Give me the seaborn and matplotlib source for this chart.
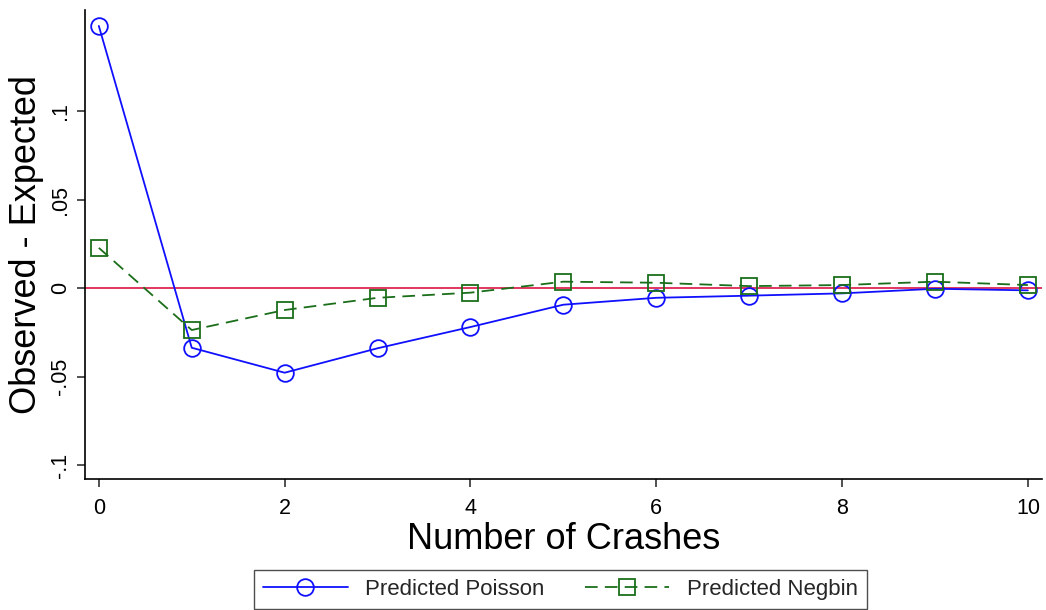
import matplotlib
matplotlib.use("Agg")
import matplotlib.pyplot as plt
import seaborn as sns
import pandas as pd
from matplotlib import font_manager

# Number of crashes and observed-minus-expected probabilities
crashes = [0, 1, 2, 3, 4, 5, 6, 7, 8, 9, 10]
poisson_diff = [0.148, -0.0337, -0.0478, -0.0340, -0.0220, -0.0094,
                -0.0055, -0.0043, -0.0030, -0.0004, -0.0013]
negbin_diff = [0.0227, -0.0237, -0.0124, -0.0055, -0.0026, 0.0036,
               0.0030, 0.0011, 0.0017, 0.0036, 0.0017]
series_names = ["Predicted Poisson", "Predicted Negbin"]
x_ticks = [0, 2, 4, 6, 8, 10]
y_ticks = [-0.1, -0.05, 0, 0.05, 0.1]
y_tick_labels = ["-.1", "-.05", "0", ".05", ".1"]

sns.set_theme(style="ticks")
installed = {f.name for f in font_manager.fontManager.ttflist}
family = "Liberation Sans" if "Liberation Sans" in installed else "DejaVu Sans"
plt.rcParams["font.family"] = [family, "DejaVu Sans"]

df = pd.DataFrame({
    "crashes": crashes * 2,
    "diff": poisson_diff + negbin_diff,
    "series": [series_names[0]] * len(crashes) + [series_names[1]] * len(crashes),
})

fig = plt.figure(figsize=(10.46, 6.10), dpi=100)
ax = fig.add_axes([0.0816, 0.2148, 0.9144, 0.7688])

blue = "#1010ff"
green = "#1a6e1a"

ax.axhline(0, color="#dc1446", lw=1.2, zorder=1)

sns.lineplot(data=df[df.series == series_names[0]], x="crashes", y="diff",
             ax=ax, color=blue, lw=1.3, marker="o", markersize=12,
             markerfacecolor="none", markeredgecolor=blue, markeredgewidth=1.3,
             label=series_names[0], zorder=3)
sns.lineplot(data=df[df.series == series_names[1]], x="crashes", y="diff",
             ax=ax, color=green, lw=1.3, marker="s", markersize=11,
             markerfacecolor="none", markeredgecolor=green, markeredgewidth=1.3,
             label=series_names[1], zorder=4)
ax.lines[-1].set_dashes([7, 4])

ax.set_xlim(-0.145, 10.15)
ax.set_ylim(-0.1078, 0.157)
ax.set_xticks(x_ticks)
ax.set_xticklabels([str(t) for t in x_ticks])
ax.set_yticks(y_ticks)
ax.set_yticklabels(y_tick_labels, rotation=90, va="center")

sns.despine(ax=ax)
for side in ("left", "bottom"):
    ax.spines[side].set_color("black")
    ax.spines[side].set_linewidth(1.2)
ax.tick_params(axis="both", direction="out", length=6, width=1.2,
               color="#333333", labelsize=15.5, labelcolor="black")
ax.tick_params(axis="x", pad=8)
ax.tick_params(axis="y", pad=4)

ax.set_xlabel("Number of Crashes", fontsize=26, color="black", labelpad=2)
ax.set_ylabel("Observed - Expected", fontsize=26, color="black", labelpad=5)
ax.grid(False)

ax.get_legend().remove()
handles, labels = ax.get_legend_handles_labels()
leg = fig.legend(handles, labels, loc="center", bbox_to_anchor=(0.536, 0.0336),
                 ncol=2, frameon=True, fancybox=False, fontsize=16,
                 handlelength=3.8, columnspacing=1.8, handletextpad=0.8,
                 borderpad=0.4)
leg.get_frame().set_edgecolor("#222222")
leg.get_frame().set_linewidth(1.0)

fig.savefig("out.png", dpi=100, facecolor="white")
